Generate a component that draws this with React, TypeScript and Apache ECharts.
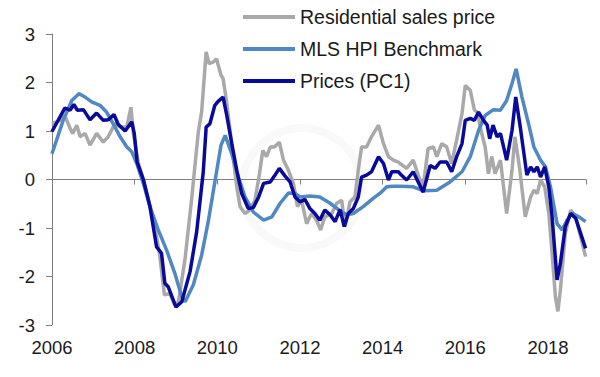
import React, { useEffect, useRef } from "react";
import * as echarts from "echarts";

// Residential sales price (grey)
const resT = [2006.0, 2006.2, 2006.31, 2006.44, 2006.5, 2006.6, 2006.68, 2006.8, 2006.92, 2007.08, 2007.24, 2007.36, 2007.52, 2007.65, 2007.81, 2007.91, 2007.97, 2008.09, 2008.21, 2008.46, 2008.6, 2008.72, 2008.85, 2008.97, 2009.06, 2009.22, 2009.38, 2009.54, 2009.62, 2009.73, 2009.8, 2009.9, 2009.98, 2010.09, 2010.14, 2010.22, 2010.31, 2010.39, 2010.47, 2010.55, 2010.67, 2010.79, 2010.91, 2011.02, 2011.1, 2011.19, 2011.28, 2011.38, 2011.5, 2011.6, 2011.72, 2011.84, 2011.94, 2012.04, 2012.16, 2012.28, 2012.4, 2012.5, 2012.6, 2012.77, 2012.89, 2013.01, 2013.09, 2013.21, 2013.33, 2013.41, 2013.49, 2013.61, 2013.73, 2013.9, 2014.02, 2014.14, 2014.26, 2014.38, 2014.42, 2014.58, 2014.74, 2014.86, 2014.98, 2015.1, 2015.23, 2015.31, 2015.43, 2015.55, 2015.67, 2015.79, 2015.92, 2016.0, 2016.12, 2016.22, 2016.29, 2016.38, 2016.48, 2016.56, 2016.64, 2016.72, 2016.85, 2017.0, 2017.13, 2017.2, 2017.31, 2017.45, 2017.58, 2017.66, 2017.74, 2017.82, 2017.92, 2018.02, 2018.1, 2018.18, 2018.24, 2018.3, 2018.42, 2018.55, 2018.67, 2018.79, 2018.91];
const resV = [1.15, 1.22, 1.32, 1.05, 0.95, 1.12, 0.88, 0.95, 0.71, 0.95, 0.77, 0.88, 1.15, 1.08, 1.08, 1.49, 0.95, 0.33, 0.0, -0.84, -1.52, -2.38, -2.35, -2.59, -2.52, -1.63, -0.39, 0.98, 1.39, 2.63, 2.39, 2.42, 2.49, 2.15, 2.08, 1.63, 1.01, 0.4, -0.15, -0.56, -0.7, -0.63, -0.43, 0.12, 0.6, 0.47, 0.67, 0.67, 0.77, 0.4, 0.19, -0.08, -0.56, -0.43, -0.91, -0.7, -0.84, -1.04, -0.77, -0.7, -0.49, -0.43, -0.97, -0.46, -0.36, 0.19, 0.67, 0.67, 0.88, 1.12, 0.74, 0.47, 0.4, 0.36, 0.33, 0.23, 0.4, 0.09, -0.15, 0.64, 0.67, 0.47, 0.74, 0.67, 0.33, 0.81, 1.36, 1.94, 1.84, 1.43, 1.39, 1.01, 0.67, 0.12, 0.47, 0.12, 0.4, -0.7, 0.19, 0.88, 0.26, -0.77, -0.36, -0.22, -0.29, -0.01, -0.15, -0.7, -1.52, -2.42, -2.72, -2.28, -1.11, -0.63, -0.77, -1.18, -1.59];

// MLS HPI Benchmark (light blue)
const mlsT = [2006.0, 2006.27, 2006.48, 2006.65, 2006.8, 2006.96, 2007.16, 2007.32, 2007.48, 2007.65, 2007.81, 2007.93, 2008.05, 2008.21, 2008.37, 2008.57, 2008.77, 2008.97, 2009.14, 2009.22, 2009.42, 2009.62, 2009.78, 2009.94, 2010.09, 2010.19, 2010.35, 2010.51, 2010.67, 2010.87, 2011.12, 2011.32, 2011.52, 2011.72, 2011.88, 2012.0, 2012.24, 2012.48, 2012.73, 2012.93, 2013.13, 2013.29, 2013.53, 2013.77, 2013.97, 2014.1, 2014.26, 2014.42, 2014.74, 2014.98, 2015.31, 2015.63, 2015.92, 2016.12, 2016.32, 2016.48, 2016.68, 2016.85, 2017.0, 2017.13, 2017.23, 2017.37, 2017.53, 2017.66, 2017.82, 2017.94, 2018.06, 2018.22, 2018.34, 2018.46, 2018.58, 2018.75, 2018.91];
const mlsV = [0.53, 1.22, 1.63, 1.77, 1.7, 1.6, 1.53, 1.39, 1.15, 0.88, 0.67, 0.57, 0.33, -0.08, -0.56, -1.04, -1.45, -1.93, -2.42, -2.52, -2.17, -1.56, -0.87, -0.05, 0.71, 0.91, 0.53, 0.05, -0.36, -0.67, -0.84, -0.77, -0.49, -0.28, -0.29, -0.36, -0.34, -0.36, -0.49, -0.62, -0.73, -0.7, -0.56, -0.39, -0.26, -0.15, -0.14, -0.14, -0.15, -0.23, -0.22, -0.05, 0.16, 0.47, 1.01, 1.32, 1.44, 1.43, 1.63, 1.98, 2.28, 1.7, 1.15, 0.67, 0.4, 0.26, -0.15, -0.91, -1.04, -0.84, -0.7, -0.77, -0.87];

// Prices (PC1) (navy)
const pcT = [2006.0, 2006.31, 2006.44, 2006.53, 2006.61, 2006.76, 2006.92, 2007.08, 2007.24, 2007.36, 2007.5, 2007.6, 2007.77, 2007.93, 2007.99, 2008.06, 2008.21, 2008.37, 2008.53, 2008.65, 2008.73, 2008.81, 2009.0, 2009.14, 2009.34, 2009.5, 2009.66, 2009.73, 2009.82, 2009.94, 2010.02, 2010.14, 2010.22, 2010.35, 2010.47, 2010.59, 2010.75, 2010.87, 2011.0, 2011.12, 2011.28, 2011.38, 2011.5, 2011.64, 2011.76, 2011.88, 2012.0, 2012.12, 2012.24, 2012.36, 2012.48, 2012.6, 2012.73, 2012.85, 2012.97, 2013.07, 2013.17, 2013.29, 2013.41, 2013.49, 2013.61, 2013.73, 2013.9, 2014.02, 2014.14, 2014.22, 2014.38, 2014.42, 2014.58, 2014.74, 2014.86, 2014.98, 2015.15, 2015.27, 2015.39, 2015.55, 2015.67, 2015.79, 2015.92, 2016.0, 2016.12, 2016.22, 2016.32, 2016.44, 2016.53, 2016.59, 2016.67, 2016.77, 2016.85, 2017.0, 2017.13, 2017.22, 2017.33, 2017.49, 2017.58, 2017.66, 2017.74, 2017.82, 2017.92, 2018.02, 2018.1, 2018.22, 2018.3, 2018.42, 2018.55, 2018.67, 2018.79, 2018.91];
const pcV = [0.99, 1.47, 1.43, 1.55, 1.43, 1.44, 1.23, 1.37, 1.22, 1.23, 1.34, 1.14, 1.0, 1.19, 0.95, 0.36, 0.0, -0.56, -1.39, -1.52, -2.14, -2.21, -2.63, -2.52, -1.9, -1.08, 0.16, 1.08, 1.15, 1.53, 1.61, 1.7, 1.36, 0.74, 0.19, -0.29, -0.6, -0.58, -0.36, -0.08, -0.05, 0.07, 0.23, 0.07, -0.05, -0.36, -0.46, -0.41, -0.6, -0.7, -0.84, -0.63, -0.73, -0.87, -0.62, -0.97, -0.7, -0.6, -0.36, 0.05, 0.09, 0.16, 0.47, 0.33, -0.01, 0.16, 0.16, 0.12, -0.01, 0.16, -0.05, -0.26, 0.29, 0.23, 0.36, 0.36, 0.16, 0.47, 0.74, 1.22, 1.26, 1.22, 1.39, 1.22, 1.12, 0.84, 1.12, 0.88, 0.95, 0.4, 1.01, 1.7, 1.08, 0.09, 0.26, 0.16, 0.26, 0.05, 0.26, -0.15, -0.77, -2.07, -1.73, -0.97, -0.7, -0.8, -1.11, -1.42];

const yearTicks = [2006, 2008, 2010, 2012, 2014, 2016, 2018];

const zip = (t: number[], v: number[]) => t.map((x, i) => [x, v[i]]);

export default function App() {
  const ref = useRef<HTMLDivElement>(null);
  useEffect(() => {
    if (!ref.current) return;
    const chart = echarts.init(ref.current, undefined, { renderer: "svg" });
    const font = "'Liberation Sans', Arial, sans-serif";
    const xMin = yearTicks[0];
    const xMax = 2018.92;
    chart.setOption({
      animation: false,
      textStyle: { fontFamily: font },
      graphic: [
        {
          type: "ring",
          z: -10,
          silent: true,
          shape: { cx: 302, cy: 188, r: 64, r0: 56 },
          style: { fill: "#f9f9f9" },
        },
      ],
      legend: {
        orient: "vertical",
        left: 238,
        top: 2,
        itemWidth: 52,
        itemHeight: 4,
        itemGap: 12,
        icon: "rect",
        textStyle: { fontSize: 19.5, color: "#1a1a1a", fontFamily: font, lineHeight: 20 },
        data: ["Residential sales price", "MLS HPI Benchmark", "Prices (PC1)"],
      },
      grid: { left: 52, right: 14, top: 34, bottom: 52, containLabel: false },
      xAxis: [
        {
          type: "value",
          min: xMin,
          max: xMax,
          interval: 2,
          position: "bottom",
          splitLine: { show: false },
          axisLine: { show: false, onZero: false },
          axisTick: { show: false },
          axisLabel: {
            fontSize: 18.5,
            color: "#1a1a1a",
            margin: 13,
            fontFamily: font,
            formatter: (v: number) => (yearTicks.includes(v) ? String(v) : ""),
          },
        },
        {
          type: "value",
          min: xMin,
          max: xMax,
          interval: 2,
          position: "bottom",
          splitLine: { show: false },
          axisLine: { show: true, onZero: true, onZeroAxisIndex: 0, lineStyle: { color: "#7f7f7f", width: 1 } },
          axisTick: { show: true, length: 5, lineStyle: { color: "#7f7f7f" } },
          axisLabel: { show: false },
        },
      ],
      yAxis: {
        type: "value",
        min: -3,
        max: 3,
        interval: 1,
        splitLine: { show: false },
        axisLine: { show: true, lineStyle: { color: "#7f7f7f", width: 1 } },
        axisTick: { show: true, length: 6, lineStyle: { color: "#7f7f7f" } },
        axisLabel: { fontSize: 18.5, color: "#1a1a1a", margin: 17, fontFamily: font },
      },
      series: [
        {
          name: "Residential sales price",
          type: "line",
          xAxisIndex: 0,
          data: zip(resT, resV),
          showSymbol: false,
          symbol: "none",
          lineStyle: { color: "#a9a9a9", width: 3.5 },
          itemStyle: { color: "#a9a9a9" },
          z: 2,
        },
        {
          name: "MLS HPI Benchmark",
          type: "line",
          xAxisIndex: 0,
          data: zip(mlsT, mlsV),
          showSymbol: false,
          symbol: "none",
          lineStyle: { color: "#4f88c2", width: 3.5 },
          itemStyle: { color: "#4f88c2" },
          z: 3,
        },
        {
          name: "Prices (PC1)",
          type: "line",
          xAxisIndex: 0,
          data: zip(pcT, pcV),
          showSymbol: false,
          symbol: "none",
          lineStyle: { color: "#0a0a9a", width: 3.5 },
          itemStyle: { color: "#0a0a9a" },
          z: 4,
        },
      ],
    });
    return () => chart.dispose();
  }, []);
  return <div ref={ref} style={{ width: 600, height: 377, marginLeft: -8, marginTop: -8 }} />;
}
